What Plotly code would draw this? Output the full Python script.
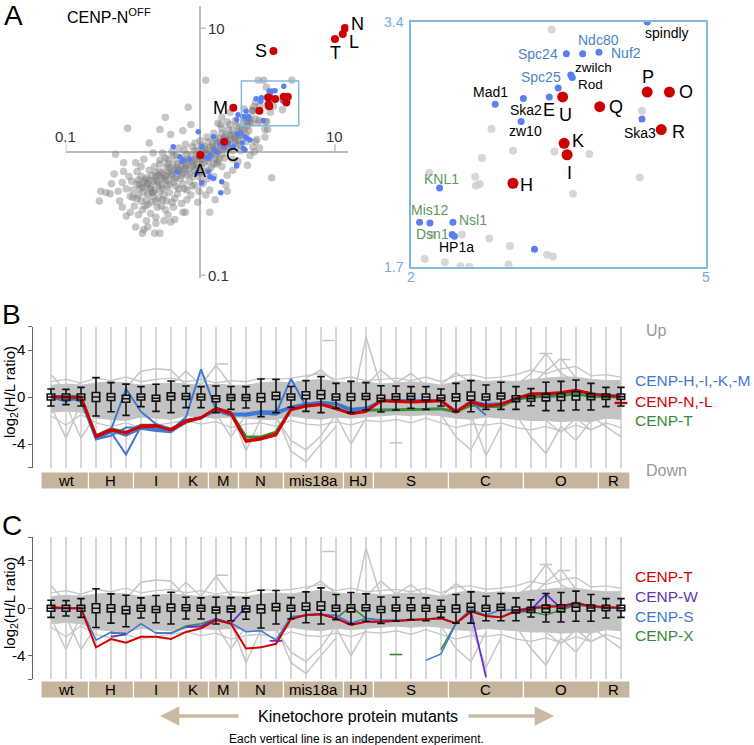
import math
import plotly.graph_objects as go

W, H = 754, 745
FONT = "Liberation Sans, Arial, Helvetica, sans-serif"

# ===================== Panel A data : log10(H/L ratio) =====================
grey_cloud = [
    (-0.41,-0.23),(-0.40,-0.28),(-0.42,-0.33),(-0.40,-0.39),(-0.36,-0.19),(-0.35,-0.24),(-0.37,-0.30),(-0.35,-0.36),
    (-0.30,-0.16),(-0.29,-0.21),(-0.31,-0.27),(-0.30,-0.32),(-0.25,-0.12),(-0.24,-0.17),(-0.26,-0.23),(-0.25,-0.28),
    (-0.20,-0.09),(-0.19,-0.14),(-0.21,-0.19),(-0.20,-0.25),(-0.15,-0.06),(-0.14,-0.11),(-0.16,-0.16),(-0.15,-0.22),
    (-0.10,-0.02),(-0.09,-0.07),(-0.11,-0.13),(-0.10,-0.19),(-0.04,0.01),(-0.03,-0.04),(-0.05,-0.10),(-0.04,-0.15),
    (0.01,0.05),(0.02,0.00),(0.00,-0.06),(0.01,-0.11),(0.06,0.08),(0.07,0.03),(0.05,-0.02),(0.06,-0.08),
    (0.11,0.11),(0.12,0.06),(0.10,0.01),(0.11,-0.05),(0.16,0.15),(0.17,0.10),(0.15,0.04),(0.16,-0.02),
    (0.21,0.18),(0.22,0.13),(0.20,0.07),(0.21,0.02),(0.27,0.21),(0.28,0.16),(0.26,0.11),(0.27,0.05),
    (0.32,0.24),(0.33,0.19),(0.31,0.13),(0.37,0.27),(0.38,0.23),(0.36,0.17),
    (-0.38,-0.23),(-0.37,-0.28),(-0.39,-0.34),(-0.33,-0.20),(-0.32,-0.25),(-0.34,-0.31),(-0.28,-0.17),(-0.27,-0.22),
    (-0.29,-0.27),(-0.23,-0.13),(-0.22,-0.18),(-0.24,-0.23),(-0.17,-0.10),(-0.16,-0.15),(-0.18,-0.20),(-0.12,-0.06),
    (-0.11,-0.11),(-0.13,-0.17),(-0.07,-0.03),(-0.06,-0.08),(-0.08,-0.14),(-0.02,0.01),(-0.01,-0.04),(-0.03,-0.10),
    (0.03,0.04),(0.04,-0.01),(0.02,-0.06),(0.09,0.07),(0.10,0.02),(0.08,-0.03),(0.14,0.11),(0.15,0.06),(0.13,0.00),
    (0.19,0.14),(0.20,0.09),(0.18,0.03),(0.24,0.17),(0.25,0.12),(0.23,0.06),(0.29,0.20),(0.30,0.15),(0.28,0.10),
    (-0.38,0.07),(-0.63,-0.02),(-0.57,-0.09),(-0.48,-0.09),(-0.44,-0.12),(-0.57,-0.16),(-0.64,-0.18),(-0.74,-0.32),
    (-0.70,-0.33),(-0.75,-0.40),(-0.67,-0.34),(-0.61,-0.32),(-0.58,-0.25),(-0.51,-0.24),(-0.46,-0.23),(-0.50,-0.31),
    (-0.58,-0.45),(-0.52,-0.49),(-0.46,-0.51),(-0.48,-0.61),(-0.42,-0.63),(-0.43,-0.66),(-0.34,-0.66),(-0.33,-0.58),
    (-0.44,-0.40),(-0.39,-0.43),(-0.32,-0.45),(-0.26,-0.47),(-0.24,-0.51),(-0.19,-0.55),(-0.22,-0.57),(-0.13,-0.49),
    (-0.11,-0.49),(-0.20,-0.45),(-0.28,-0.39),(-0.35,-0.33),(-0.42,-0.25),(-0.33,-0.17),(-0.38,-0.15),(-0.24,-0.10),
    (-0.26,-0.05),(-0.35,-0.01),(-0.28,-0.01),(-0.21,0.00),(-0.16,0.03),(-0.11,0.06),(-0.04,0.07),(0.04,0.58),
    (-0.09,0.36),(-0.26,0.28),(-0.54,0.19),(0.07,-0.49),(0.53,-0.21),(0.41,0.40),(0.61,0.34),(0.68,0.58),
    (0.43,0.58),(0.22,0.32),(0.15,0.22),(0.41,0.08),(0.48,0.18),(-0.30,0.18),(-0.22,0.14),(-0.13,0.17),
    (-0.07,0.22),(0.13,0.23),(0.20,0.24),(0.16,0.28),(0.47,0.58),(0.50,0.18),(0.42,0.10),(0.48,0.12),
    (0.39,0.04),(0.44,0.03),(0.37,-0.03),(0.28,-0.08),(0.35,-0.11),(0.24,-0.15),(0.20,-0.19),(0.16,-0.12),
    (0.07,-0.31),(0.11,-0.39),(0.04,-0.35),(0.19,-0.27),(-0.04,-0.27),(-0.07,-0.35),(0.00,-0.21),(0.24,-0.06),
    (0.30,0.01),(0.52,0.32),(-0.39,-0.61),(-0.30,-0.66),(-0.02,-0.41),(-0.10,-0.39),(0.20,-0.32),(0.40,0.00),
    (-0.55,-0.30),(-0.52,-0.36),(-0.47,-0.38),(-0.45,-0.30),(-0.49,-0.44),(-0.43,-0.47),(-0.37,-0.50),(-0.36,-0.41),
    (-0.31,-0.38),(-0.29,-0.44),(-0.27,-0.35),(-0.23,-0.33),(-0.19,-0.38),(-0.16,-0.30),(-0.14,-0.42),(-0.10,-0.31),
    (-0.08,-0.24),(-0.13,-0.26),(-0.18,-0.28),(-0.21,-0.41),(-0.33,-0.53),(-0.27,-0.56),(-0.40,-0.56),(-0.55,-0.52),
    (-0.60,-0.40),(-0.66,-0.26),(-0.53,-0.20),(-0.47,-0.16),(-0.42,-0.06),(-0.30,-0.07),(-0.34,-0.12),(-0.20,-0.03),
    (-0.05,-0.20),(0.03,-0.16),(0.08,-0.13),(0.13,-0.08),(0.02,-0.26),(-0.01,-0.32),(0.05,-0.22),(0.10,-0.20),
    (-0.30,-0.10),(-0.24,-0.06),(-0.18,-0.03),(-0.12,0.01),(-0.06,0.04),(0.00,0.09),(0.05,0.12),(0.10,0.15),
    (0.16,0.19),(0.22,0.22),(0.26,0.25),(0.33,0.27),(0.29,0.06),(0.34,0.08),(0.24,0.01),(0.18,-0.05),
    (0.12,-0.10),(-0.45,-0.27),(-0.40,-0.21),(-0.46,-0.35),
    (-0.43,-0.29),(-0.39,-0.26),(-0.36,-0.33),(-0.33,-0.23),(-0.31,-0.19),(-0.28,-0.30),(-0.26,-0.19),(-0.23,-0.27),
    (-0.21,-0.15),(-0.19,-0.22),(-0.17,-0.13),(-0.14,-0.19),(-0.12,-0.14),(-0.10,-0.09),(-0.08,-0.18),(-0.06,-0.12),
    (-0.04,-0.06),(-0.02,-0.13),(0.00,-0.02),(0.03,-0.09),(0.04,0.02),(0.07,-0.05),(0.09,0.04),(0.12,-0.02),
    (0.13,0.08),(0.16,0.02),(0.18,0.12),(0.20,0.04),(0.22,0.10),(0.24,0.14),(0.26,0.08),(0.29,0.13),
    (0.31,0.18),(0.34,0.14),(0.35,0.21),(-0.47,-0.26),(-0.44,-0.20),(-0.50,-0.37),(-0.41,-0.44),(-0.33,-0.40),
    (-0.25,-0.40),(-0.17,-0.34),(-0.12,-0.30),(-0.06,-0.28),(0.00,-0.17),(0.06,-0.15),(0.10,-0.10),(0.14,-0.06),
]
inset_grey = [
    (0.491,0.522),(0.439,0.373),(0.397,0.364),(0.495,0.372),(0.542,0.369),(0.388,0.341),(0.394,0.332),
    (0.389,0.330),(0.326,0.346),(0.407,0.265),(0.435,0.256),(0.485,0.245),(0.493,0.243),(0.347,0.236),
    (0.433,0.233),(0.368,0.231),(0.613,0.422),
]
blue_cloud = [
    (-0.015,0.162),(-0.201,0.041),(-0.151,-0.041),(-0.138,-0.081),(-0.175,-0.162),(-0.077,-0.062),(0.010,0.041),
    (0.027,-0.041),(0.072,-0.027),(0.122,0.000),(0.097,0.122),(0.146,0.068),(0.245,0.041),(0.295,0.149),
    (0.345,0.109),(0.319,0.028),(0.270,-0.108),(0.059,-0.162),(0.072,-0.203),(0.097,-0.216),(0.010,-0.251),
    (0.159,-0.243),(0.152,-0.332),(0.275,0.143),(0.332,0.122),(0.369,0.095),(0.312,0.073),(0.208,0.068),
    (0.176,0.036),(0.109,0.014),(0.332,0.014),(0.059,-0.053),(-0.027,-0.175),(-0.126,-0.067),(0.270,-0.116),
    (0.27,0.26),(0.28,0.30),
]
named_blue = ["spindly","Ndc80","Spc24","Nuf2","zwilch","Rod","Spc25","Mad1","Ska2","E","zw10","Ska3",
              "KNL1","","Mis12","Nsl1","Dsn1","HP1a",""]
named_blue_lx = [0.620,0.533,0.511,0.555,0.517,0.519,0.500,0.415,0.453,0.488,0.450,0.613,
                 0.340,0.313,0.327,0.358,0.357,0.360,0.468]
named_blue_ly = [0.531,0.492,0.492,0.494,0.466,0.463,0.450,0.430,0.437,0.439,0.409,0.412,
                 0.327,0.285,0.284,0.285,0.270,0.268,0.252]
red_names = ["S","T","N","L","M","C","A","U","Q","P","O","R","K","I","H"]
red_lx = [0.543,1.000,1.075,1.058,0.245,0.178,0.000,0.506,0.556,0.620,0.650,0.639,0.508,0.512,0.439]
red_ly = [0.816,0.913,1.002,0.954,0.357,0.081,-0.027,0.439,0.427,0.445,0.445,0.399,0.382,0.368,0.333]
main_ticks = ["0.1", "10"]
inset_x_ticks = [2, 5]
inset_y_ticks = [1.7, 3.4]

# ===================== Panels B / C data : log2(H/L ratio) =====================
groups = ["wt","H","I","K","M","N","mis18a","HJ","S","C","O","R"]
group_sizes = [3,3,3,2,2,3,4,2,5,5,5,2]
box_median = [0,0,0, 0,0,-0.15, 0,-0.1,0.05, 0.05,0, -0.15,-0.05, -0.05,-0.05,0.1, 0,0.15,0.2,0, 0,0.05,
              -0.1,0.03,0.05,0,-0.08, -0.03,0.08,0,0.08,-0.14, -0.14,-0.03,0,0.1,0.03, 0.03,0.03]
box_q1 = [-0.25,-0.25,-0.25, -0.38,-0.30,-0.45, -0.25,-0.35,-0.25, -0.20,-0.25, -0.40,-0.30, -0.30,-0.40,-0.20,
          -0.25,-0.15,-0.15,-0.25, -0.30,-0.20, -0.35,-0.22,-0.20,-0.25,-0.30, -0.33,-0.27,-0.25,-0.17,-0.39,
          -0.36,-0.33,-0.30,-0.25,-0.22, -0.20,-0.20]
box_q3 = [0.25,0.25,0.25, 0.38,0.30,0.15, 0.25,0.15,0.35, 0.30,0.25, 0.10,0.20, 0.20,0.30,0.40,
          0.25,0.45,0.55,0.25, 0.30,0.30, 0.15,0.28,0.30,0.25,0.15, 0.27,0.43,0.25,0.33,0.11,
          0.08,0.27,0.30,0.45,0.28, 0.26,0.26]
box_hi = [0.68,0.65,0.82, 1.65,1.22,1.10, 0.88,1.08,1.36, 0.94,0.88, 0.94,0.90, 0.88,1.53,1.50,
          0.90,1.39,1.73,1.16, 1.33,1.22, 0.96,0.94,0.88,0.88,0.68, 1.16,1.39,1.02,1.25,0.88,
          0.71,1.25,1.33,1.45,1.16, 0.82,0.82]
box_lo = [-0.77,-0.65,-0.77, -1.62,-1.25,-1.56, -0.82,-1.22,-1.33, -0.90,-0.90, -1.33,-1.05, -0.93,-1.67,-1.33,
          -0.88,-1.22,-1.33,-0.96, -1.33,-1.10, -1.28,-1.10,-0.96,-1.05,-0.77, -1.25,-1.25,-1.05,-1.05,-1.05,
          -0.74,-1.16,-1.16,-1.10,-1.10, -0.82,-0.77]
band_hi = [1.0,1.1,1.0, 1.2,1.3,1.2, 1.0,1.1,1.2, 1.1,1.0, 1.1,1.0, 1.0,1.2,1.3, 1.2,1.4,1.5,1.3, 1.2,1.3,
           1.1,1.2,1.3,1.2,1.0, 1.3,1.5,1.3,1.4,1.3, 1.5,1.6,1.7,1.7,1.5, 1.4,1.4]
band_lo = [-1.3,-1.2,-1.3, -1.8,-1.9,-2.0, -1.7,-1.8,-1.9, -1.6,-1.7, -1.8,-1.7, -1.8,-1.9,-1.9,
           -1.6,-1.8,-1.9,-1.7, -1.8,-1.7, -1.6,-1.5,-1.6,-1.5,-1.6, -1.8,-1.9,-1.7,-1.8,-1.9,
           -2.0,-2.0,-2.1,-2.0,-2.1, -1.8,-1.9]
grey_edge_hi = [1.3,1.5,1.2, 1.6,1.4,1.7, 1.3,1.5,1.6, 1.3,1.5, 1.2,1.4, 1.3,1.6,1.5, 1.6,1.8,2.0,1.5, 1.7,1.4,
                1.5,1.6,1.4,1.7,1.3, 1.8,1.9,1.6,1.7,1.9, 2.3,2.0,2.4,2.6,1.8, 1.9,1.7]
grey_edge_lo = [-1.6,-2.4,-1.5, -2.2,-2.5,-2.2, -2.6,-2.4,-2.2, -2.0,-2.3, -2.1,-2.6, -2.3,-2.2,-2.5,
                -2.0,-2.3,-2.4,-2.1, -2.4,-2.0, -2.1,-1.9,-2.2,-1.8,-2.2, -2.6,-2.3,-2.4,-2.2,-2.6,
                -2.8,-2.5,-2.9,-2.4,-2.8, -2.2,-2.6]
# outlier protein profiles: (first experiment index, values)
grey_outliers = [
    (0, [-0.8,-3.5,-0.5]), (1, [-0.7,-3.5,-1.5]), (0, [1.9,0.5,1.2]), (5, [0.8,2.2,2.4,2.3,1.0]),
    (8, [1.0,2.2,1.0]), (10, [1.0,2.7,1.0]), (11, [-1.4,-3.4,-1.5]), (12, [-1.2,-4.6,-1.8]),
    (15, [-1.5,-4.6,-5.5,-4.0,-2.5]), (15, [-1.8,-3.7,-4.5,-3.3,-1.5]), (17, [1.6,2.3,1.2]),
    (20, [-1.1,5.1,0.9]), (19, [-1.6,-4.0,-1.8]), (21, [1.0,2.3,1.2,2.0,1.0]),
    (26, [-1.5,-3.4,-4.5,-2.0]), (28, [-1.5,-5.0,-2.5]), (26, [1.0,2.1,1.2]),
    (31, [1.0,2.0,3.7,2.0,1.3]), (32, [1.0,2.2,3.3,1.6,1.0]), (31, [-1.5,-3.4,-4.8,-2.5,-3.7,-2.0]),
    (36, [-1.6,-2.5,-3.4]), (33, [-2.0,-3.0,-1.8,-2.8,-2.2]),
]
grey_dash_x = [18.5, 23.0, 33.0, 34.2, 11.4]
grey_dash_y = [4.8, -3.9, 3.7, 3.2, 2.8]

B_red_N = [0,0,0, -3.3,-2.75,-3.1, -2.45,-2.4,-2.85, -2.1,-1.8, -0.95,-1.35, -3.7,-3.5,-3.15,
           -1.05,-0.75,-0.6,-0.95, -1.45,-1.25, -0.3,-0.34,-0.4,-0.34,-0.3, -1.25,-0.4,-0.75,-0.65,-0.1,
           0.22,0.28,0.34,0.57,0.28, 0.1,0.05]
B_red_L = [0.05,-0.05,0, -3.4,-2.85,-3.0, -2.55,-2.5,-2.75, -2.0,-1.75, -1.0,-1.45, -3.8,-3.6,-3.25,
           -1.1,-0.8,-0.65,-1.0, -1.4,-1.2, -0.35,-0.4,-0.45,-0.4,-0.35, -1.3,-0.45,-0.8,-0.6,-0.15,
           0.3,0.3,0.4,0.6,0.3, None,-0.5]
B_green_T = [0,0.05,0, -3.3,-2.7,-3.0, -2.4,-2.4,-2.8, -2.0,-1.8, -0.95,-1.35, -3.4,-3.4,-3.0,
             -1.0,-0.7,-0.55,-0.9, -1.4,-1.1, -1.1,-1.1,-1.05,-1.05,-1.0, -1.25,-0.7,-0.8,-0.8,-0.2,
             0.0,0.05,0.1,0.3,0.05, 0.05,0.0]
B_blue_H = [0,0,-0.4, -3.6,-3.0,-4.9, -2.5,-2.7,-2.9, -2.2,-1.8, -1.1,-1.5, -1.5,-1.3,-1.2,
            -0.9,-0.6,-0.45,-0.6, -1.1,-1.0, -0.3,-0.3,-0.3,-0.35,-0.35, -1.25,-0.4,-1.55,None,None,
            None,0.2,0.3,0.5,0.3, 0.2,0.1]
B_blue_I = [0,-0.4,0, -3.5,-2.8,0.7, -1.25,-2.3,-2.7, -2.0,-1.7, -1.0,-1.4, -1.4,-1.2,-1.3,
            -0.8,-0.55,-0.4,-0.5, -1.0,-0.9, -0.35,-0.25,-0.3,-0.3,-0.3, -1.2,-0.35,-0.6,-0.5,-0.2,
            0.2,0.25,0.3,0.5,0.3, 0.1,0.1]
B_blue_K = [0.1,0,0, -3.6,-3.3,-2.6, -2.6,-2.8,-2.8, -1.7,2.35, -1.1,-1.5, -1.6,-1.4,-1.5,
            -0.9,-0.7,-0.5,-0.6, -1.2,-1.1, -0.3,-0.3,-0.35,-0.3,-0.3, -1.2,-0.4,-0.7,-0.6,-0.2,
            0.2,0.3,0.35,0.55,0.3, 0.15,0.1]
B_blue_M = [0,0,0, -3.4,-2.9,-3.3, -2.7,-2.9,-3.0, -2.1,-1.8, -1.2,-1.6, -1.5,-1.4,-1.4,
            1.55,-0.8,-0.5,-0.6, -1.1,-1.0, -0.3,-0.3,-0.3,-0.3,-0.3, -1.2,-0.4,-0.7,-0.6,-0.2,
            0.2,0.3,0.35,0.5,0.3, 0.15,0.1]

C_red_T = [0.1,0,0, -3.3,-2.6,-2.9, -2.4,-2.4,-2.6, -2.0,-1.7, -1.0,-1.3, -3.4,-3.3,-3.0,
           -0.9,-0.56,-0.5,-0.85, -1.4,-1.13, -1.13,-1.05,-1.0,-0.93,-0.85, -1.27,-0.28,-0.65,-0.76,-0.2,
           0.0,0.08,0.2,0.42,0.2, 0.08,0.06]
C_purple_W = [0,0,0, None,-2.4,-2.2, None,None,None, -1.55,-1.55, -0.9,-1.27, 0.1,None,-2.75,
              None,-0.56,-0.5,-0.85, -1.4,-1.13, -1.13,-1.05,-1.0,-0.93,-0.85, -1.27,-0.28,-5.8,None,-0.28,
              -0.14,1.2,0.0,0.42,0.2, 0.08,0.06]
C_blue_S = [0,0,0, -2.7,-2.0,-2.2, -1.3,-2.1,-2.1, -1.6,-1.5, -0.9,-1.25, -1.97,-1.9,-2.7,
            -0.7,-0.6,-0.5,-0.6, -1.27,-0.85, -1.0,-1.0,None,-4.4,-3.86, -1.27,-0.14,-0.56,-0.14,-0.14,
            0.08,0.28,0.2,0.48,0.14, 0.0,0.0]
C_green_X = [None,None,None, None,-2.1,-2.1, None,-2.1,-2.1, -1.5,-1.3, -0.9,-1.3, None,None,None,
             -0.9,-0.56,-0.5,-0.85, 0.14,-0.85, None,-3.9,None,None,-3.5, -1.27,-0.08,-0.65,-0.76,-0.28,
             -0.28,-0.56,-0.14,0.28,0.14, 0.06,0.06]

# ===================== styling =====================
GREY_DOT = "rgba(120,120,120,0.42)"
BLUE_DOT = "#5a7ff0"
RED_DOT = "#cc0000"
BOX_BLUE = "#85b8de"
TICK_BLUE = "#75aad8"
BLUE_TXT = "#4a84c6"
GREEN_TXT = "#5f9660"
LINE_BLUE = "#3f78d2"
LINE_RED = "#d40000"
LINE_GREEN = "#3a8a3a"
LINE_PURPLE = "#6a2cd6"
TAN = "#c4b59c"

def xdom(a, b): return [a / W, b / W]
def ydom(top, bot): return [1 - bot / H, 1 - top / H]

fig = go.Figure()

gx = [p[0] for p in grey_cloud + inset_grey]
gy = [p[1] for p in grey_cloud + inset_grey]
bx = [p[0] for p in blue_cloud] + named_blue_lx
by = [p[1] for p in blue_cloud] + named_blue_ly

for ax_x, ax_y, gs, gc, bs, rs in [("x", "y", 7.5, GREY_DOT, 5.5, 8), ("x2", "y2", 8, "rgba(205,205,205,0.8)", 7, 11)]:
    fig.add_trace(go.Scatter(x=gx, y=gy, mode="markers", xaxis=ax_x, yaxis=ax_y, hoverinfo="skip",
                             marker=dict(size=gs, color=gc, line=dict(width=0))))
    fig.add_trace(go.Scatter(x=bx, y=by, mode="markers", xaxis=ax_x, yaxis=ax_y, hoverinfo="skip",
                             marker=dict(size=bs, color=BLUE_DOT, line=dict(width=0))))
    fig.add_trace(go.Scatter(x=red_lx, y=red_ly, mode="markers", xaxis=ax_x, yaxis=ax_y, hoverinfo="skip",
                             marker=dict(size=rs, color=RED_DOT, line=dict(width=0))))

annotations = []
shapes = []

def ann(text, x, y, size=16, color="black", xanchor="center", yanchor="middle", xref="paper", yref="paper",
        xshift=0, yshift=0, angle=0):
    if xref == "paper":
        x = x / W
    if yref == "paper":
        y = 1 - y / H
    annotations.append(dict(text=text, x=x, y=y, xref=xref, yref=yref, showarrow=False,
                            xanchor=xanchor, yanchor=yanchor, xshift=xshift, yshift=yshift,
                            textangle=angle, font=dict(size=size, color=color, family=FONT)))

# labels of main scatter
main_label_shift = {"S": (-12, 0), "T": (1, -14), "N": (12, 4), "L": (11, -8), "M": (-13, 0), "C": (8, -13), "A": (0, -16)}
inset_label_shift = {"U": (3, -18), "Q": (16, 0), "P": (1, 15), "O": (17, 0), "R": (17, -2), "K": (14, 2),
                     "I": (2, -18), "H": (14, -2)}
for n, lx, ly in zip(red_names, red_lx, red_ly):
    if n in main_label_shift:
        dx, dy = main_label_shift[n]
        ann(n, lx, ly, size=18, xref="x", yref="y", xshift=dx, yshift=dy)
    if n in inset_label_shift:
        dx, dy = inset_label_shift[n]
        ann(n, lx, ly, size=18, xref="x2", yref="y2", xshift=dx, yshift=dy)

blue_label_style = {
    "spindly": (20, -11, "black", 14), "Ndc80": (16, 14, BLUE_TXT, 14), "Spc24": (-28, 0, BLUE_TXT, 14),
    "Nuf2": (27, -1, BLUE_TXT, 14), "zwilch": (23, 7, "black", 13.5), "Rod": (18, -7, "black", 13.5),
    "Spc25": (-17, 11, BLUE_TXT, 14), "Mad1": (-5, 12, "black", 14), "Ska2": (3, -11, "black", 14),
    "E": (0, -13, "black", 18), "zw10": (4, -10, "black", 14), "Ska3": (-2, -14, "black", 14),
    "KNL1": (2, 9, GREEN_TXT, 14), "Mis12": (0, 13, GREEN_TXT, 14), "Nsl1": (20, 2, GREEN_TXT, 14),
    "Dsn1": (-20, 1, GREEN_TXT, 14), "HP1a": (2, -11, "black", 14),
}
for n, lx, ly in zip(named_blue, named_blue_lx, named_blue_ly):
    if n in blue_label_style:
        dx, dy, c, s = blue_label_style[n]
        ann(n, lx, ly, size=s, color=c, xref="x2", yref="y2", xshift=dx, yshift=dy)

# main scatter tick labels and ticks
TK = "#333333"
ann(main_ticks[1], 0, 1, size=15, color=TK, xref="x", yref="y", xanchor="left", xshift=6)
ann(main_ticks[0], -1, 0, size=15, color=TK, xref="x", yref="y", yshift=15)
ann(main_ticks[1], 1, 0, size=15, color=TK, xref="x", yref="y", yshift=15)
ann(main_ticks[0], 0, -1, size=15, color=TK, xref="x", yref="y", xanchor="left", xshift=6)
AXG = "#bdbdbd"
for (x0, y0, x1, y1) in [(0, 1, 0.04, 1), (-1, 0, -1, 0.06), (1, 0, 1, 0.06), (0, -1, 0.04, -1)]:
    shapes.append(dict(type="line", xref="x", yref="y", x0=x0, y0=y0, x1=x1, y1=y1,
                       line=dict(color=AXG, width=1.5)))
# zoom box on main scatter (region shown in the inset)
shapes.append(dict(type="rect", xref="x", yref="y", x0=0.305, x1=0.731, y0=0.211, y1=0.573,
                   line=dict(color=BOX_BLUE, width=1.5)))

inset_xr = [math.log10(inset_x_ticks[0]), math.log10(inset_x_ticks[1])]
inset_yr = [math.log10(inset_y_ticks[0]), math.log10(inset_y_ticks[1])]
ann(str(inset_x_ticks[0]), inset_xr[0], 277, size=14, color=TICK_BLUE, xref="x2")
ann(str(inset_x_ticks[1]), inset_xr[1], 277, size=14, color=TICK_BLUE, xref="x2")
ann(str(inset_y_ticks[1]), 406, inset_yr[1], size=14, color=TICK_BLUE, yref="y2", xanchor="right")
ann(str(inset_y_ticks[0]), 406, inset_yr[0], size=14, color=TICK_BLUE, yref="y2", xanchor="right")

ann("CENP-N<sup>OFF</sup>", 65, 16, size=16, xanchor="left")
ann("A", 2, 16, size=28, xanchor="left")
ann("B", 0, 314, size=28, xanchor="left")
ann("C", 0, 525, size=28, xanchor="left")

# ===================== Panels B and C =====================
n_exp = sum(group_sizes)
exp_x = list(range(n_exp))

def isolated(vals):
    out = []
    for i, v in enumerate(vals):
        if v is None:
            continue
        left = vals[i - 1] if i > 0 else None
        right = vals[i + 1] if i < len(vals) - 1 else None
        if left is None and right is None:
            out.append((i, v))
    return out

def add_line(vals, color, width, xa, ya):
    fig.add_trace(go.Scatter(x=exp_x, y=vals, mode="lines", xaxis=xa, yaxis=ya, hoverinfo="skip",
                             connectgaps=False, line=dict(color=color, width=width)))
    iso = isolated(vals)
    if iso:
        fig.add_trace(go.Scatter(x=[p[0] for p in iso], y=[p[1] for p in iso], mode="markers",
                                 xaxis=xa, yaxis=ya, hoverinfo="skip",
                                 marker=dict(symbol="line-ew", size=9, line=dict(width=width, color=color))))

# (base axes, overlay axes used for box plots so that they sit above the line layer)
panels = [
    ("x3", "y3", "x5", "y5", [(B_green_T, LINE_GREEN, 3), (B_blue_H, LINE_BLUE, 2), (B_blue_I, LINE_BLUE, 2),
                  (B_blue_K, LINE_BLUE, 2), (B_blue_M, LINE_BLUE, 2), (B_red_L, LINE_RED, 2.5), (B_red_N, LINE_RED, 2.5)]),
    ("x4", "y4", "x6", "y6", [(C_green_X, LINE_GREEN, 1.6), (C_blue_S, LINE_BLUE, 1.6), (C_purple_W, LINE_PURPLE, 1.8),
                  (C_red_T, LINE_RED, 2)]),
]
GL = "#c6c6c6"
for xa, ya, xo, yo, series in panels:
    fig.add_trace(go.Scatter(x=exp_x, y=band_hi, mode="lines", xaxis=xa, yaxis=ya, hoverinfo="skip",
                             line=dict(color="#c3c3c3", width=1)))
    fig.add_trace(go.Scatter(x=exp_x, y=band_lo, mode="lines", xaxis=xa, yaxis=ya, hoverinfo="skip",
                             fill="tonexty", fillcolor="#c3c3c3", line=dict(color="#c3c3c3", width=1)))
    for edge in (grey_edge_hi, grey_edge_lo):
        fig.add_trace(go.Scatter(x=exp_x, y=edge, mode="lines", xaxis=xa, yaxis=ya, hoverinfo="skip",
                                 line=dict(color=GL, width=1.3)))
    for start, vals in grey_outliers:
        fig.add_trace(go.Scatter(x=list(range(start, start + len(vals))), y=vals, mode="lines",
                                 xaxis=xa, yaxis=ya, hoverinfo="skip", line=dict(color=GL, width=1.5)))
    fig.add_trace(go.Scatter(x=grey_dash_x, y=grey_dash_y, mode="markers", xaxis=xa, yaxis=ya, hoverinfo="skip",
                             marker=dict(symbol="line-ew", size=9, line=dict(width=1.5, color=GL))))
    for vals, c, w in series:
        add_line(vals, c, w, xa, ya)
    fig.add_trace(go.Box(x=exp_x, q1=box_q1, median=box_median, q3=box_q3, lowerfence=box_lo,
                         upperfence=box_hi, orientation="v", xaxis=xo, yaxis=yo, boxpoints=False, width=0.5,
                         whiskerwidth=1, fillcolor="rgba(0,0,0,0)", line=dict(color="#111111", width=1.6),
                         hoverinfo="skip"))

# group bars
starts = []
s = 0
for g in group_sizes:
    starts.append(s)
    s += g
for xa, top, bot in [("x3", 472, 489), ("x4", 681, 698)]:
    for k, (g, st, sz) in enumerate(zip(groups, starts, group_sizes)):
        x0 = st - 0.5 if k > 0 else -0.67
        x1 = st + sz - 0.5 if k < len(groups) - 1 else n_exp - 0.4
        shapes.append(dict(type="rect", xref=xa, yref="paper", x0=x0, x1=x1, y0=1 - bot / H, y1=1 - top / H,
                           fillcolor=TAN, line=dict(color="white", width=1.2)))
        ann(g, st + (sz - 1) / 2, (top + bot) / 2, size=15, xref=xa)

# y titles
ann("log<sub>2</sub>(H/L ratio)", 10, 392, size=15, angle=-90)
ann("log<sub>2</sub>(H/L ratio)", 10, 603, size=15, angle=-90)

# legends
ann("Up", 644, 330, size=16, color="#999999", xanchor="left")
ann("CENP-H,-I,-K,-M", 633, 380, size=15.5, color=LINE_BLUE, xanchor="left")
ann("CENP-N,-L", 633, 401, size=15.5, color=LINE_RED, xanchor="left")
ann("CENP-T", 633, 420, size=15.5, color=LINE_GREEN, xanchor="left")
ann("Down", 644, 470, size=16, color="#999999", xanchor="left")
ann("CENP-T", 633, 576, size=15.5, color=LINE_RED, xanchor="left")
ann("CENP-W", 633, 596, size=15.5, color="#5e3aa6", xanchor="left")
ann("CENP-S", 633, 616, size=15.5, color=LINE_BLUE, xanchor="left")
ann("CENP-X", 633, 635, size=15.5, color=LINE_GREEN, xanchor="left")

ann("Kinetochore protein mutants", 358, 716, size=16)
ann("Each vertical line is an independent experiment.", 356, 739, size=12)
for head, tail in [(160, 240), (554, 467)]:
    annotations.append(dict(x=head / W, y=1 - 716 / H, ax=tail - head, ay=0, xref="paper", yref="paper",
                            axref="pixel", ayref="pixel", text="", showarrow=True, arrowhead=2,
                            arrowsize=1.1, arrowwidth=3.5, arrowcolor="#c9baa1"))

noax = dict(showgrid=False, zeroline=False, showticklabels=False, ticks="", showline=False)
yax_bc = dict(range=[-6, 6], tickvals=[-6, -4, 0, 4, 6], ticktext=["", "-4", "0", "4", ""], ticks="outside",
              ticklen=4, tickcolor="#666666", showline=True, linecolor="#666666", linewidth=1,
              showgrid=False, zeroline=False, tickfont=dict(size=15, color="black", family=FONT))
xax_bc = dict(range=[-1.18, 39.27], tickvals=exp_x, showticklabels=False, ticks="", showgrid=True,
              gridcolor="#d8d8d8", gridwidth=2, zeroline=False, showline=False)
hidden = dict(visible=False, showgrid=False, zeroline=False)

fig.update_layout(
    width=W, height=H, margin=dict(l=0, r=0, t=0, b=0), paper_bgcolor="white", plot_bgcolor="white",
    showlegend=False, font=dict(family=FONT),
    xaxis=dict(domain=xdom(65.7, 348.4), range=[-1.0, 1.1], anchor="y", **{**noax, "zeroline": True},
               zerolinecolor=AXG, zerolinewidth=1.5),
    yaxis=dict(domain=ydom(6.1, 277.6), range=[-1.02, 1.18], anchor="x", **{**noax, "zeroline": True},
               zerolinecolor=AXG, zerolinewidth=1.5),
    xaxis2=dict(domain=xdom(410.7, 705.7), range=inset_xr, anchor="y2", **{**noax, "showline": True},
                mirror=True, linecolor=BOX_BLUE, linewidth=1.5),
    yaxis2=dict(domain=ydom(21.7, 266.7), range=inset_yr, anchor="x2", **{**noax, "showline": True},
                mirror=True, linecolor=BOX_BLUE, linewidth=1.5),
    xaxis3=dict(domain=xdom(33.3, 640), anchor="y3", **xax_bc),
    yaxis3=dict(domain=ydom(326.5, 467.5), anchor="x3", **yax_bc),
    xaxis4=dict(domain=xdom(33.3, 640), anchor="y4", **xax_bc),
    yaxis4=dict(domain=ydom(537.3, 679.3), anchor="x4", **yax_bc),
    xaxis5=dict(overlaying="x3", range=[-1.18, 39.27], anchor="y5", **hidden),
    yaxis5=dict(overlaying="y3", range=[-6, 6], anchor="x5", **hidden),
    xaxis6=dict(overlaying="x4", range=[-1.18, 39.27], anchor="y6", **hidden),
    yaxis6=dict(overlaying="y4", range=[-6, 6], anchor="x6", **hidden),
    annotations=annotations, shapes=shapes,
)

fig.write_html("out.html", config={"displayModeBar": False},
               post_script="document.body.style.margin='0px';document.body.style.overflow='hidden';")
